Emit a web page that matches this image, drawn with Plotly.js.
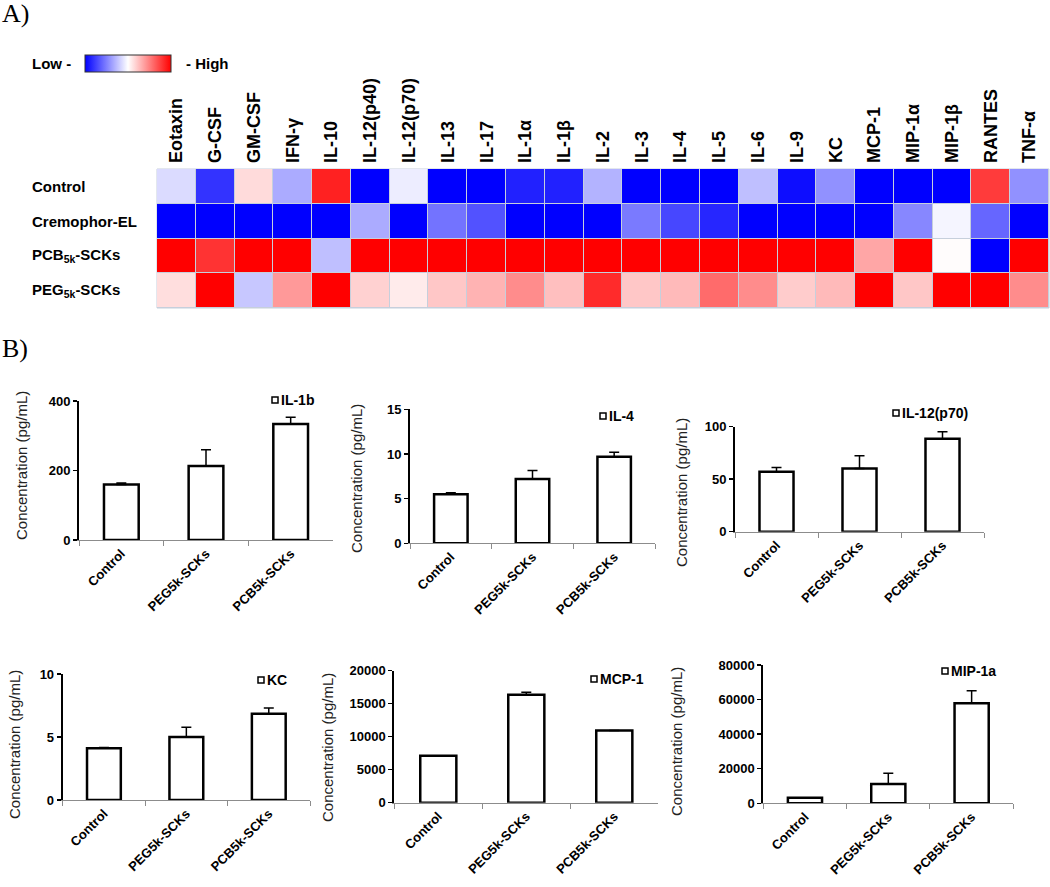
<!DOCTYPE html>
<html><head><meta charset="utf-8">
<script src="https://cdn.plot.ly/plotly-3.0.1.min.js"></script>
<style>html,body{margin:0;padding:0;background:#fff}</style>
</head><body><div id="chart" style="width:1050px;height:887px"></div>
<script>
// ---------- Heatmap data (relative level, -1 = low, 1 = high) ----------
const cytokines = ['Eotaxin','G-CSF','GM-CSF','IFN-γ','IL-10','IL-12(p40)','IL-12(p70)','IL-13','IL-17','IL-1α','IL-1β','IL-2','IL-3','IL-4','IL-5','IL-6','IL-9','KC','MCP-1','MIP-1α','MIP-1β','RANTES','TNF-α'];
const rowLabels = ['Control','Cremophor-EL','PCB<sub>5k</sub>-SCKs','PEG<sub>5k</sub>-SCKs'];
const zControl   = [-0.14,-0.8, 0.14,-0.33, 0.87,-1,-0.07,-1,-1,-0.87,-0.87,-0.3,-1,-1,-1,-0.25,-0.95,-0.43,-1,-1,-1, 0.77,-0.43];
const zCremophor = [-1,-1,-1,-1,-1,-0.33,-1,-0.55,-0.68,-1,-1,-1,-0.52,-0.72,-0.85,-1,-1,-1,-1,-0.47,-0.04,-0.6,-1];
const zPCB       = [1, 0.8, 1, 1,-0.25, 1, 1, 1, 1, 1, 1, 1, 1, 1, 1, 1, 1, 1, 0.35, 1, 0.01,-1, 1];
const zPEG       = [0.13, 1,-0.22, 0.4, 1, 0.18, 0.08, 0.22, 0.3, 0.45, 0.25, 0.83, 0.22, 0.27, 0.58, 0.45, 0.2, 0.27, 1, 0.22, 1, 1, 0.45];

// ---------- Bar chart data ----------
const groups = ['Control','PEG5k-SCKs','PCB5k-SCKs'];
const panelNames = ['IL-1b','IL-4','IL-12(p70)','KC','MCP-1','MIP-1a'];
const il1b = [160, 213, 334];        const il1bErr = [4, 47, 19];
const il4 = [5.5, 7.2, 9.7];         const il4Err = [0.15, 0.95, 0.5];
const il12p70 = [57, 60.3, 88.6];    const il12p70Err = [4.2, 12, 6.6];
const kc = [4.1, 5.0, 6.85];         const kcErr = [0.06, 0.77, 0.45];
const mcp1 = [7100, 16350, 10950];   const mcp1Err = [0, 400, 0];
const mip1a = [3200, 11200, 57900];  const mip1aErr = [0, 6200, 7200];
const barValues = [il1b, il4, il12p70, kc, mcp1, mip1a];
const barErrors = [il1bErr, il4Err, il12p70Err, kcErr, mcp1Err, mip1aErr];
const yMax = [400, 15, 100, 10, 20000, 80000];
const yStep = [200, 5, 50, 5, 5000, 20000];

// ---------- layout helpers (pixel -> paper) ----------
const W = 1050, H = 887;
const px = v => v / W;
const py = v => 1 - v / H;
const FONT = 'Liberation Sans, Arial, sans-serif';

// panel placement in pixels
const panelBox = [
  {x0:79,  x1:333,  top:401,   bot:540,   tx:21,  ty:466, lx:272, ly:400},
  {x0:410, x1:655,  top:409.3, bot:543.3, tx:356, ty:479, lx:600, ly:416},
  {x0:735, x1:984,  top:426.7, bot:531.7, tx:681, ty:493, lx:893, ly:413},
  {x0:62.7,x1:310,  top:674,   bot:800,   tx:14,  ty:745, lx:258, ly:680},
  {x0:394.3,x1:658.3,top:670.7,bot:802.7, tx:327, ty:748, lx:591, ly:679},
  {x0:763.3,x1:1013.3,top:665, bot:803.3, tx:676, ty:742, lx:942, ly:671}
];

const traces = [];
const layout = {
  width: W, height: H, autosize: false,
  margin: {l:0, r:0, t:0, b:0},
  paper_bgcolor: '#fff', plot_bgcolor: 'rgba(0,0,0,0)',
  showlegend: false,
  font: {family: FONT, color: '#000'},
  annotations: [], shapes: []
};

// Heatmap
traces.push({
  type: 'heatmap',
  z: [zControl, zCremophor, zPCB, zPEG],
  x: cytokines,
  y: [0, 1, 2, 3],
  zmin: -1, zmax: 1,
  colorscale: [[0, '#0000ff'], [0.5, '#ffffff'], [1, '#ff0000']],
  xgap: 1, ygap: 1,
  hoverinfo: 'skip',
  colorbar: {
    orientation: 'h', x: px(128), xanchor: 'center', y: py(55), yanchor: 'top',
    len: 86, lenmode: 'pixels', thickness: 17, thicknessmode: 'pixels',
    xpad: 0, ypad: 0, outlinewidth: 1, outlinecolor: '#333',
    showticklabels: false, ticks: ''
  },
  xaxis: 'x', yaxis: 'y'
});
layout.xaxis = {
  domain: [px(157), px(1049)], anchor: 'y', side: 'top', type: 'category',
  tickangle: -90, ticks: '', ticklabelstandoff: 5, showgrid: false, zeroline: false, showline: false,
  tickfont: {family: FONT, size: 18, weight: 'bold', color: '#000'}
};
layout.yaxis = {
  domain: [py(308), py(169)], anchor: 'x', autorange: 'reversed',
  showticklabels: false, ticks: '', showgrid: false, zeroline: false, showline: false
};
layout.shapes.push({type:'rect', xref:'x domain', yref:'y domain', x0:0, x1:1, y0:0, y1:1,
  fillcolor:'#c6cfdc', line:{color:'#c6cfdc', width:1}, layer:'below'});
rowLabels.forEach((t, i) => {
  layout.annotations.push({text: t, xref:'paper', yref:'y', x: px(30), y: i, xanchor:'left', yanchor:'middle',
    showarrow:false, font:{family: FONT, size: 15, weight:'bold', color:'#000'}});
});
layout.annotations.push({text:'Low -', xref:'paper', yref:'paper', x:px(30), y:py(63), xanchor:'left', yanchor:'middle',
  showarrow:false, font:{family: FONT, size:15, weight:'bold', color:'#000'}});
layout.annotations.push({text:'- High', xref:'paper', yref:'paper', x:px(184), y:py(63), xanchor:'left', yanchor:'middle',
  showarrow:false, font:{family: FONT, size:15, weight:'bold', color:'#000'}});
layout.annotations.push({text:'A)', xref:'paper', yref:'paper', x:0, y:py(-3), xanchor:'left', yanchor:'top',
  showarrow:false, font:{family:'Liberation Serif, Times New Roman, serif', size:26, color:'#000'}});
layout.annotations.push({text:'B)', xref:'paper', yref:'paper', x:0, y:py(332), xanchor:'left', yanchor:'top',
  showarrow:false, font:{family:'Liberation Serif, Times New Roman, serif', size:26, color:'#000'}});

// Bar panels
panelBox.forEach((b, i) => {
  const n = i + 2;
  traces.push({
    type: 'bar', x: groups, y: barValues[i], width: 0.41,
    marker: {color: '#ffffff', line: {color: '#000', width: 2.5}},
    error_y: {type: 'data', symmetric: false, array: barErrors[i], arrayminus: barErrors[i].map(() => 0),
      color: '#000', thickness: 1.5, width: 5},
    xaxis: 'x' + n, yaxis: 'y' + n, hoverinfo: 'skip'
  });
  layout['xaxis' + n] = {
    domain: [px(b.x0), px(b.x1)], anchor: 'y' + n, type: 'category', range: [-0.5, 2.5],
    showline: true, linecolor: '#8c8c8c', linewidth: 1,
    ticks: 'outside', tickson: 'boundaries', ticklen: 5, tickcolor: '#8c8c8c',
    tickangle: -45, showgrid: false, zeroline: false,
    tickfont: {family: FONT, size: 13, weight: 'bold', color: '#000'}
  };
  layout['yaxis' + n] = {
    domain: [py(b.bot), py(b.top)], anchor: 'x' + n, range: [0, yMax[i]], dtick: yStep[i], tickformat: 'd',
    showline: true, linecolor: '#000', linewidth: 2,
    ticks: 'outside', ticklen: 4, tickwidth: 1.5, tickcolor: '#000',
    showgrid: false, zeroline: false,
    tickfont: {family: FONT, size: 13, weight: 'bold', color: '#000'}
  };
  layout.annotations.push({text: 'Concentration (pg/mL)', textangle: -90, xref:'paper', yref:'paper',
    x: px(b.tx), y: py(b.ty), xanchor:'center', yanchor:'middle', showarrow:false,
    font:{family: FONT, size: 15, color:'#222'}});
  layout.shapes.push({type:'rect', xref:'paper', yref:'paper', x0: px(b.lx), x1: px(b.lx + 6),
    y0: py(b.ly + 3), y1: py(b.ly - 3), line:{color:'#000', width:1.5}, fillcolor:'#fff'});
  layout.annotations.push({text: panelNames[i], xref:'paper', yref:'paper', x: px(b.lx + 7), y: py(b.ly),
    xanchor:'left', yanchor:'middle', showarrow:false,
    font:{family: FONT, size: 14, weight:'bold', color:'#000'}});
});

Plotly.newPlot('chart', traces, layout, {displayModeBar: false, staticPlot: true});
</script>
</body></html>
